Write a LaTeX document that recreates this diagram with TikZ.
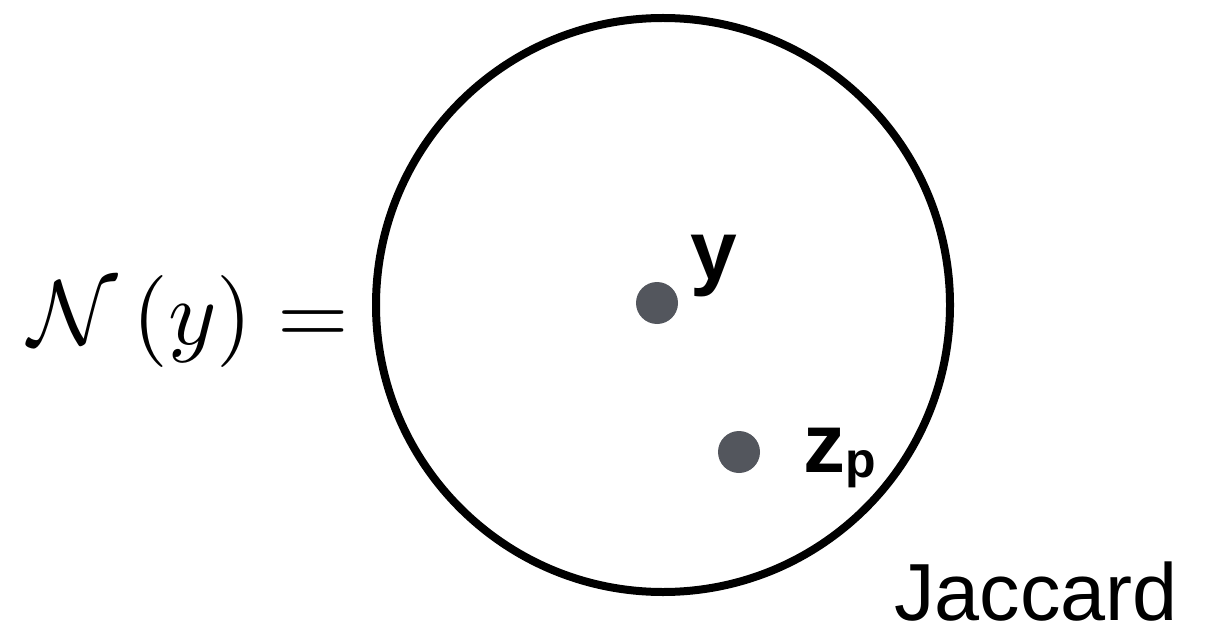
\documentclass[tikz,border=0pt]{standalone}
\usepackage{fontspec}
\setmainfont{Liberation Sans}
\definecolor{dotgray}{HTML}{53565D}
\begin{document}
\begin{tikzpicture}[x=1pt,y=-1pt,
  dot/.style={circle,fill=dotgray,inner sep=0pt,minimum size=42pt},
  lbl/.style={inner sep=0pt,font=\bfseries\fontsize{84}{84}\selectfont},
  ring/.style={circle,draw=black,line width=8pt,inner sep=0pt,minimum size=574pt}]
\useasboundingbox (0,0) rectangle (1209,628);
\node[ring] (hood) at (663,305) {};
\node[dot] (dy) at (657,303) {};
\node[dot] (dz) at (739,452) {};
\node[lbl,anchor=base west] (ly) at (690,279) {y};
\node[lbl,anchor=base west] (lz) at (803,472) {z{\fontsize{50}{50}\selectfont\raisebox{-5pt}{p}}};
\node[inner sep=0pt,anchor=base west,font=\fontsize{81}{81}\selectfont] (jac) at (894,620) {Jaccard};
\node[inner sep=0pt,anchor=base west] (eq) at (28,344) {\scalebox{9.2}{$\mathcal{N}\left(y\right)=$}};
\end{tikzpicture}
\end{document}
